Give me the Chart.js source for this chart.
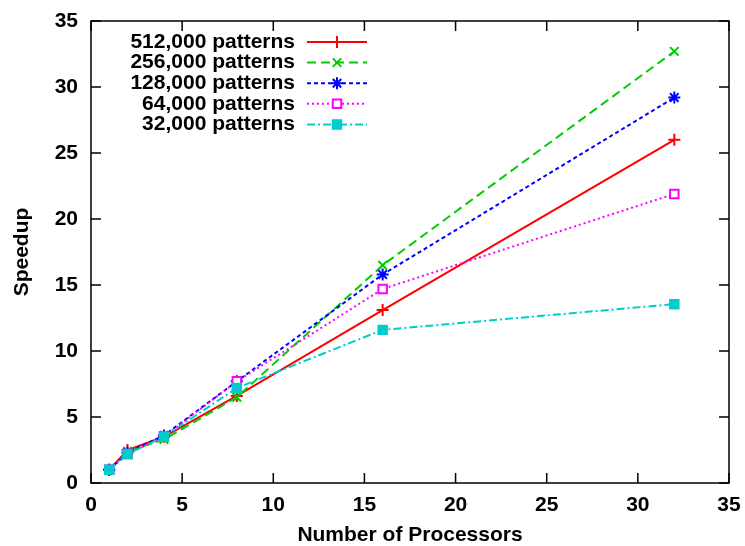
<!DOCTYPE html>
<html>
<head>
<meta charset="utf-8">
<script src="https://cdn.jsdelivr.net/npm/chart.js@4.4.1/dist/chart.umd.min.js"></script>
<style>
  html, body { margin: 0; padding: 0; background: #fff; }
  #wrap { width: 745px; height: 546px; }
</style>
</head>
<body>
<div id="wrap"><canvas id="speedupChart" width="745" height="546"></canvas></div>
<script>
const processors = [1, 2, 4, 8, 16, 32];
const seriesNames = ["512,000 patterns", "256,000 patterns", "128,000 patterns", "64,000 patterns", "32,000 patterns"];
const speedup512k = [1.0, 2.5, 3.5, 6.6, 13.1, 26.0];
const speedup256k = [1.0, 2.4, 3.3, 6.5, 16.5, 32.7];
const speedup128k = [1.0, 2.3, 3.6, 7.7, 15.8, 29.2];
const speedup64k  = [1.0, 2.2, 3.5, 7.7, 14.7, 21.9];
const speedup32k  = [1.0, 2.2, 3.5, 7.2, 11.6, 13.55];
const xTicks = [0, 5, 10, 15, 20, 25, 30, 35];
const yTicks = [0, 5, 10, 15, 20, 25, 30, 35];

const FONT = "'Liberation Sans', Arial, Helvetica, sans-serif";

function toPoints(values) {
  return processors.map((p, i) => ({ x: p, y: values[i] }));
}

const styles = [
  { color: "#ff0000", dash: [], point: "cross", fill: "#ff0000" },
  { color: "#00cc00", dash: [9, 5], point: "crossRot", fill: "#00cc00" },
  { color: "#0000ff", dash: [4, 3], point: "star", fill: "#0000ff" },
  { color: "#ff00ff", dash: [2, 3], point: "rect", fill: "#ffffff" },
  { color: "#00cccc", dash: [8, 3, 2, 3], point: "rect", fill: "#00cccc" }
];
const allValues = [speedup512k, speedup256k, speedup128k, speedup64k, speedup32k];

const datasets = allValues.map((vals, i) => ({
  label: seriesNames[i],
  data: toPoints(vals),
  borderColor: styles[i].color,
  backgroundColor: styles[i].fill,
  borderWidth: 2,
  borderDash: styles[i].dash,
  pointStyle: styles[i].point,
  pointRadius: 6,
  pointBorderWidth: 2,
  pointBorderColor: styles[i].color,
  pointBackgroundColor: styles[i].fill,
  tension: 0,
  order: 5 - i
}));

// gnuplot style box with inward ticks on all four sides
const boxPlugin = {
  id: "box",
  afterDraw(chart) {
    const { ctx, chartArea: a, scales } = chart;
    ctx.save();
    ctx.strokeStyle = "#000";
    ctx.lineWidth = 1.5;
    ctx.setLineDash([]);
    ctx.strokeRect(a.left, a.top, a.right - a.left, a.bottom - a.top);
    const len = 10;
    ctx.beginPath();
    xTicks.forEach(v => {
      const px = scales.x.getPixelForValue(v);
      ctx.moveTo(px, a.bottom); ctx.lineTo(px, a.bottom - len);
      ctx.moveTo(px, a.top); ctx.lineTo(px, a.top + len);
    });
    yTicks.forEach(v => {
      const py = scales.y.getPixelForValue(v);
      ctx.moveTo(a.left, py); ctx.lineTo(a.left + len, py);
      ctx.moveTo(a.right, py); ctx.lineTo(a.right - len, py);
    });
    ctx.stroke();
    ctx.restore();
  }
};

// key in the top-left corner: label right aligned, then line sample with marker
const keyPlugin = {
  id: "key",
  afterDraw(chart) {
    const ctx = chart.ctx;
    ctx.save();
    ctx.font = "bold 21px " + FONT;
    ctx.textAlign = "right";
    ctx.textBaseline = "middle";
    chart.data.datasets.forEach((ds, i) => {
      const y = 42 + i * 20.6;
      ctx.fillStyle = "#000";
      ctx.fillText(ds.label, 295, y);
      ctx.strokeStyle = ds.borderColor;
      ctx.lineWidth = 2;
      ctx.setLineDash(ds.borderDash);
      ctx.beginPath();
      ctx.moveTo(307, y);
      ctx.lineTo(367, y);
      ctx.stroke();
      ctx.setLineDash([]);
      ctx.fillStyle = ds.pointBackgroundColor;
      ctx.strokeStyle = ds.pointBorderColor;
      ctx.lineWidth = 2;
      Chart.helpers.drawPoint(ctx, {
        pointStyle: ds.pointStyle, radius: ds.pointRadius, rotation: 0, borderWidth: 2
      }, 337, y);
    });
    ctx.restore();
  }
};

const tickFont = { family: FONT, size: 21, weight: "bold" };
const titleFont = { family: FONT, size: 21, weight: "bold", lineHeight: 1.0 };

new Chart(document.getElementById("speedupChart"), {
  type: "line",
  data: { datasets },
  options: {
    responsive: false,
    animation: false,
    devicePixelRatio: 1,
    layout: { padding: { top: 21, right: 16, bottom: 0, left: 12 } },
    plugins: { legend: { display: false }, tooltip: { enabled: false } },
    scales: {
      x: {
        type: "linear",
        min: 0,
        max: 35,
        afterBuildTicks: s => { s.ticks = xTicks.map(v => ({ value: v })); },
        afterFit: s => { s.height = 63; s.paddingLeft = 0; s.paddingRight = 0; },
        grid: { display: false, drawTicks: false },
        border: { display: false },
        ticks: { color: "#000", padding: 10, font: tickFont, maxRotation: 0 },
        title: {
          display: true, text: "Number of Processors", color: "#000",
          padding: { top: 0, bottom: 0 },
          font: titleFont
        }
      },
      y: {
        min: 0,
        max: 35,
        afterBuildTicks: s => { s.ticks = yTicks.map(v => ({ value: v })); },
        afterFit: s => { s.width = 79; s.paddingTop = 0; s.paddingBottom = 0; },
        grid: { display: false, drawTicks: false },
        border: { display: false },
        ticks: { color: "#000", padding: 13, font: tickFont },
        title: {
          display: true, text: "Speedup", color: "#000",
          padding: { top: 0, bottom: 0 },
          font: titleFont
        }
      }
    }
  },
  plugins: [boxPlugin, keyPlugin]
});
</script>
</body>
</html>
